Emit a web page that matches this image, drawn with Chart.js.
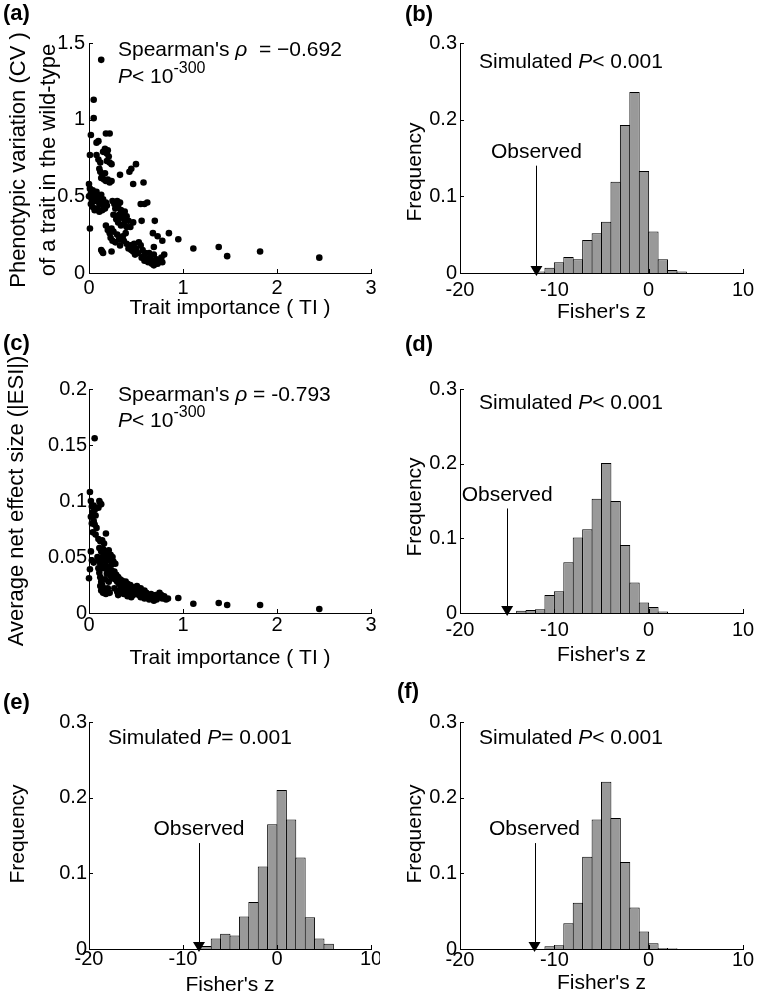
<!DOCTYPE html>
<html>
<head>
<meta charset="utf-8">
<script src="https://cdn.jsdelivr.net/npm/chart.js@4.4.1/dist/chart.umd.min.js"></script>
<style>
  html, body { margin: 0; padding: 0; background: #fff; }
  #fig { position: relative; width: 760px; height: 1005px; overflow: hidden; background: #fff; }
  #fig canvas { position: absolute; }
</style>
</head>
<body>
<div id="fig">
  <canvas id="panel-a" width="380" height="345" style="left:0;top:0"></canvas>
  <canvas id="panel-b" width="380" height="345" style="left:380px;top:0"></canvas>
  <canvas id="panel-c" width="380" height="345" style="left:0;top:330px"></canvas>
  <canvas id="panel-d" width="380" height="345" style="left:380px;top:330px"></canvas>
  <canvas id="panel-e" width="380" height="345" style="left:0;top:660px"></canvas>
  <canvas id="panel-f" width="380" height="345" style="left:380px;top:660px"></canvas>
</div>
<script>
const FONT = "'Liberation Sans', Arial, Helvetica, sans-serif";

// (a) trait importance (TI) vs phenotypic variation (CV), [TI, CV]
const scatterA = [
  [0.13,1.39],[0.05,1.13],[0.05,1.01],[0.02,0.90],[0.08,0.85],[0.10,0.86],[0.18,0.91],[0.22,0.91],
  [0.01,0.77],[0.08,0.77],[0.10,0.74],[0.12,0.72],[0.15,0.79],[0.17,0.81],[0.19,0.78],[0.20,0.80],
  [0.21,0.76],[0.19,0.73],[0.22,0.72],[0.24,0.71],[0.11,0.68],[0.12,0.66],[0.14,0.64],[0.13,0.62],
  [0.16,0.61],[0.18,0.60],[0.20,0.61],[0.22,0.59],[0.24,0.60],[0.17,0.65],
  [0.33,0.64],[0.43,0.66],[0.45,0.68],[0.50,0.71],[0.47,0.58],[0.58,0.59],[0.55,0.45],[0.59,0.45],[0.62,0.46],
  [0.00,0.58],[0.01,0.55],[0.02,0.52],[0.00,0.50],[0.03,0.48],[0.04,0.54],[0.05,0.51],[0.06,0.47],
  [0.07,0.50],[0.08,0.53],[0.09,0.47],[0.10,0.49],[0.11,0.45],[0.12,0.48],[0.13,0.51],[0.14,0.46],
  [0.15,0.48],[0.16,0.44],[0.17,0.42],[0.02,0.45],[0.04,0.43],[0.06,0.41],[0.09,0.42],[0.11,0.40],
  [0.14,0.41],[0.18,0.46],[0.19,0.44],
  [0.25,0.47],[0.27,0.45],[0.30,0.47],[0.31,0.44],[0.33,0.46],[0.28,0.42],[0.34,0.41],[0.36,0.39],
  [0.38,0.40],[0.32,0.38],[0.35,0.36],[0.38,0.35],[0.40,0.37],[0.42,0.34],[0.37,0.32],[0.34,0.31],
  [0.40,0.30],[0.44,0.30],[0.26,0.38],[0.29,0.35],[0.31,0.33],[0.47,0.33],
  [0.56,0.34],[0.70,0.34],[0.01,0.29],
  [0.18,0.31],[0.20,0.28],[0.22,0.26],[0.24,0.29],[0.26,0.27],[0.23,0.23],[0.25,0.21],[0.28,0.20],
  [0.30,0.25],[0.32,0.22],[0.33,0.18],[0.36,0.24],[0.37,0.21],[0.39,0.26],[0.40,0.19],[0.42,0.16],
  [0.44,0.18],[0.45,0.15],[0.47,0.14],[0.48,0.19],[0.50,0.16],[0.49,0.12],[0.52,0.13],[0.53,0.20],
  [0.55,0.18],[0.57,0.15],[0.58,0.11],[0.60,0.13],[0.56,0.10],[0.59,0.08],[0.61,0.09],[0.63,0.07],
  [0.65,0.10],[0.66,0.07],[0.67,0.06],[0.68,0.08],[0.69,0.05],[0.70,0.07],[0.72,0.09],[0.73,0.06],
  [0.75,0.08],[0.77,0.10],[0.78,0.07],[0.80,0.12],[0.64,0.13],[0.69,0.12],
  [0.68,0.26],[0.73,0.24],[0.78,0.21],[0.69,0.17],[0.85,0.26],[0.95,0.22],
  [0.13,0.15],[0.14,0.14],[0.15,0.13],[0.24,0.14],
  [1.11,0.16],[1.38,0.17],[1.47,0.11],[1.82,0.14],[2.45,0.10]
];

// (c) trait importance (TI) vs average net effect size, [TI, |ESI|]
const scatterC = [
  [0.06,0.156],
  [0.01,0.108],[0.02,0.100],[0.03,0.095],[0.05,0.096],[0.04,0.090],[0.06,0.092],[0.07,0.087],[0.02,0.086],
  [0.05,0.082],[0.06,0.079],[0.08,0.076],[0.03,0.080],[0.11,0.100],[0.12,0.098],[0.13,0.097],[0.10,0.094],
  [0.04,0.072],[0.07,0.070],[0.02,0.055],[0.01,0.039],[0.00,0.031],[0.03,0.047],[0.05,0.045],
  [0.18,0.071],[0.10,0.066],[0.12,0.064],[0.14,0.065],[0.16,0.062],[0.11,0.058],[0.13,0.055],[0.15,0.057],
  [0.17,0.053],[0.19,0.055],[0.21,0.056],[0.23,0.052],[0.25,0.050],[0.14,0.050],[0.16,0.048],[0.18,0.046],
  [0.20,0.049],[0.22,0.047],[0.10,0.047],[0.12,0.044],[0.09,0.050],[0.26,0.046],[0.28,0.044],[0.24,0.043],
  [0.10,0.040],[0.11,0.036],[0.12,0.032],[0.13,0.028],[0.12,0.024],[0.13,0.020],[0.15,0.018],[0.14,0.025],
  [0.16,0.022],[0.18,0.017],[0.17,0.030],[0.19,0.035],[0.20,0.022],[0.21,0.028],[0.22,0.018],[0.23,0.033],
  [0.24,0.038],[0.15,0.040],[0.17,0.042],[0.19,0.039],[0.21,0.041],
  [0.25,0.031],[0.26,0.035],[0.27,0.037],[0.28,0.030],[0.29,0.034],[0.30,0.028],[0.31,0.032],[0.32,0.026],
  [0.33,0.030],[0.34,0.027],[0.35,0.029],[0.36,0.024],[0.37,0.027],[0.38,0.025],[0.39,0.028],[0.40,0.023],
  [0.41,0.026],[0.42,0.024],[0.43,0.021],[0.44,0.025],[0.45,0.022],[0.46,0.020],[0.47,0.023],[0.48,0.019],
  [0.49,0.021],[0.50,0.018],[0.27,0.022],[0.30,0.019],[0.31,0.016],[0.33,0.021],[0.35,0.019],[0.37,0.017],
  [0.39,0.020],[0.41,0.015],[0.43,0.017],[0.45,0.014],[0.47,0.016],[0.52,0.020],[0.53,0.016],[0.54,0.018],
  [0.55,0.014],[0.56,0.017],[0.57,0.015],[0.58,0.019],[0.59,0.013],[0.60,0.016],[0.61,0.018],[0.62,0.014],
  [0.63,0.016],[0.64,0.012],[0.65,0.015],[0.66,0.017],[0.67,0.013],[0.68,0.015],[0.69,0.011],[0.70,0.013],
  [0.71,0.016],[0.72,0.012],[0.74,0.014],[0.75,0.018],[0.77,0.016],[0.78,0.013],[0.80,0.015],[0.82,0.012],
  [0.84,0.013],[0.51,0.024],[0.55,0.022],[0.59,0.020],
  [0.95,0.0134],[1.11,0.0083],[1.38,0.0089],[1.47,0.0071],[1.82,0.0071],[2.45,0.0036]
];

// Histograms of Fisher's z: bin centres and frequencies
const binsB = [-11.5,-10.5,-9.5,-8.5,-7.5,-6.5,-5.5,-4.5,-3.5,-2.5,-1.5,-0.5,0.5,1.5,2.5,3.5];
const freqB = [0.002,0.007,0.014,0.021,0.018,0.043,0.052,0.067,0.119,0.193,0.236,0.133,0.054,0.018,0.004,0.002];
const observedB = -11.9;

const binsD = [-13.5,-12.5,-11.5,-10.5,-9.5,-8.5,-7.5,-6.5,-5.5,-4.5,-3.5,-2.5,-1.5,-0.5,0.5,1.5];
const freqD = [0.003,0.004,0.005,0.024,0.029,0.068,0.101,0.112,0.153,0.201,0.150,0.091,0.041,0.014,0.008,0.002];
const observedD = -15.0;

const binsE = [-7.5,-6.5,-5.5,-4.5,-3.5,-2.5,-1.5,-0.5,0.5,1.5,2.5,3.5,4.5,5.5];
const freqE = [0.004,0.014,0.020,0.018,0.043,0.062,0.109,0.165,0.210,0.171,0.121,0.042,0.014,0.007];
const observedE = -8.3;

const binsF = [-10.5,-9.5,-8.5,-7.5,-6.5,-5.5,-4.5,-3.5,-2.5,-1.5,-0.5,0.5,1.5,2.5];
const freqF = [0.0035,0.005,0.034,0.061,0.122,0.171,0.221,0.173,0.115,0.055,0.023,0.0075,0.0013,0.001];
const observedF = -12.1;

// Tick values
const tiTicks = [0, 1, 2, 3];
const cvTicks = [0, 0.5, 1, 1.5];
const esiTicks = [0, 0.05, 0.1, 0.15, 0.2];
const zTicks = [-20, -10, 0, 10];
const freqTicks = [0, 0.1, 0.2, 0.3];

// Small MATLAB-style ticks pointing into the plot
const inwardTicks = {
  id: 'inwardTicks',
  afterDatasetsDraw(chart) {
    const { ctx, chartArea, scales: { x, y } } = chart;
    ctx.save();
    ctx.strokeStyle = '#000';
    ctx.lineWidth = 1;
    ctx.beginPath();
    x.ticks.forEach((t) => {
      const px = Math.round(x.getPixelForValue(t.value)) + 0.5;
      ctx.moveTo(px, chartArea.bottom);
      ctx.lineTo(px, chartArea.bottom - 4);
    });
    y.ticks.forEach((t) => {
      const py = Math.round(y.getPixelForValue(t.value)) + 0.5;
      ctx.moveTo(chartArea.left, py);
      ctx.lineTo(chartArea.left + 4, py);
    });
    ctx.stroke();
    ctx.restore();
  }
};

// Draw a line of text made of plain / italic / superscript pieces
function drawRich(ctx, x, y, parts, size) {
  ctx.save();
  ctx.fillStyle = '#000';
  ctx.textAlign = 'left';
  ctx.textBaseline = 'middle';
  parts.forEach((p) => {
    const s = p.sup ? Math.round(size * 0.76) : size;
    ctx.font = (p.italic ? 'italic ' : '') + s + 'px ' + FONT;
    ctx.fillText(p.t, x, p.sup ? y - size * 0.4 : y);
    x += ctx.measureText(p.t).width;
  });
  ctx.restore();
}

function drawPanelLabel(ctx, text, x, y) {
  ctx.save();
  ctx.fillStyle = '#000';
  ctx.font = 'bold 22px ' + FONT;
  ctx.textAlign = 'left';
  ctx.textBaseline = 'middle';
  ctx.fillText(text, x, y);
  ctx.restore();
}

// Rotated y-axis title, one or more lines
function drawYTitle(ctx, lines, cx, cy, size, gap) {
  ctx.save();
  ctx.translate(cx, cy);
  ctx.rotate(-Math.PI / 2);
  ctx.fillStyle = '#000';
  ctx.font = size + 'px ' + FONT;
  ctx.textAlign = 'center';
  ctx.textBaseline = 'middle';
  lines.forEach((l, i) => ctx.fillText(l, 0, i * gap));
  ctx.restore();
}

// Arrow with the observed Fisher's z
function drawObserved(chart, z) {
  const { ctx, scales: { x, y } } = chart;
  const px = x.getPixelForValue(z);
  const base = y.getPixelForValue(0);
  const top = y.getPixelForValue(0.14);
  ctx.save();
  ctx.strokeStyle = '#000';
  ctx.fillStyle = '#000';
  ctx.lineWidth = 1;
  ctx.beginPath();
  ctx.moveTo(Math.round(px) + 0.5, top);
  ctx.lineTo(Math.round(px) + 0.5, base - 6);
  ctx.stroke();
  ctx.beginPath();
  ctx.moveTo(px - 6, base - 7);
  ctx.lineTo(px + 6, base - 7);
  ctx.lineTo(px, base + 3);
  ctx.closePath();
  ctx.fill();
  ctx.font = '21px ' + FONT;
  ctx.textAlign = 'center';
  ctx.textBaseline = 'middle';
  ctx.fillText('Observed', px, y.getPixelForValue(0.158));
  ctx.restore();
}

function scatterSet(points) {
  return {
    data: points.map((p) => ({ x: p[0], y: p[1] })),
    pointRadius: 3.3,
    pointBackgroundColor: '#000',
    pointBorderWidth: 0,
    clip: false
  };
}

function histSet(bins, freq) {
  return {
    data: bins.map((b, i) => ({ x: b, y: freq[i] })),
    backgroundColor: '#999999',
    borderColor: '#000',
    borderWidth: 1,
    barPercentage: 1.1,
    categoryPercentage: 1
  };
}

function makePanel(id, p) {
  const ctx = document.getElementById(id).getContext('2d');
  return new Chart(ctx, {
    type: p.type,
    data: { datasets: [p.dataset] },
    options: {
      responsive: false,
      animation: false,
      devicePixelRatio: 1,
      events: [],
      layout: { padding: { top: p.top, right: p.right, left: 0, bottom: 0 } },
      plugins: { legend: { display: false }, tooltip: { enabled: false } },
      scales: {
        x: {
          type: 'linear',
          offset: false,
          min: p.xTicks[0],
          max: p.xTicks[p.xTicks.length - 1],
          grid: { display: false, drawTicks: false, offset: false },
          border: { display: true, color: '#000', width: 1 },
          afterBuildTicks: (s) => { s.ticks = p.xTicks.map((v) => ({ value: v })); },
          afterFit: (s) => { s.height = p.xHeight; s.paddingLeft = 0; s.paddingRight = 0; },
          ticks: {
            color: '#000', padding: p.xTickPad, maxRotation: 0, autoSkip: false,
            font: { family: FONT, size: 20, lineHeight: 1 },
            callback: (v) => String(v)
          },
          title: {
            display: true, text: p.xTitle, color: '#000',
            padding: { top: 0, bottom: p.xTitlePad },
            font: { family: FONT, size: 21, lineHeight: 1.2 }
          }
        },
        y: {
          type: 'linear',
          min: p.yTicks[0],
          max: p.yTicks[p.yTicks.length - 1],
          grid: { display: false, drawTicks: false },
          border: { display: true, color: '#000', width: 1 },
          afterBuildTicks: (s) => { s.ticks = p.yTicks.map((v) => ({ value: v })); },
          afterFit: (s) => { s.width = p.yWidth; s.paddingTop = 0; s.paddingBottom = 0; },
          ticks: {
            color: '#000', padding: p.yTickPad, autoSkip: false,
            font: { family: FONT, size: 20, lineHeight: 1 },
            callback: (v) => String(v)
          }
        }
      }
    },
    plugins: [inwardTicks, { id: 'extras', afterDraw: (chart) => p.extras(chart) }]
  });
}

// (a)
makePanel('panel-a', {
  type: 'scatter', dataset: scatterSet(scatterA),
  xTicks: tiTicks, yTicks: cvTicks,
  top: 43, right: 9, yWidth: 89, xHeight: 72,
  xTickPad: 5, yTickPad: 4, xTitlePad: 24.4, xTitle: 'Trait importance ( TI )',
  extras: (chart) => {
    const ctx = chart.ctx;
    drawPanelLabel(ctx, '(a)', 3, 14);
    drawYTitle(ctx, ['Phenotypic variation (CV )', 'of a trait in the wild-type'], 19, 160, 22, 30);
    drawRich(ctx, 118, 50, [{ t: "Spearman's " }, { t: 'ρ', italic: true }, { t: '  = −0.692' }], 21);
    drawRich(ctx, 118, 77, [{ t: 'P', italic: true }, { t: '< 10' }, { t: '-300', sup: true }], 21);
  }
});

// (b)
makePanel('panel-b', {
  type: 'bar', dataset: histSet(binsB, freqB),
  xTicks: zTicks, yTicks: freqTicks,
  top: 43, right: 17, yWidth: 80, xHeight: 72,
  xTickPad: 7, yTickPad: 3, xTitlePad: 20.4, xTitle: "Fisher's z",
  extras: (chart) => {
    const ctx = chart.ctx;
    drawPanelLabel(ctx, '(b)', 25, 15);
    drawYTitle(ctx, ['Frequency'], 35, 172, 21, 0);
    drawRich(ctx, 99, 62, [{ t: 'Simulated ' }, { t: 'P', italic: true }, { t: '< 0.001' }], 21);
    drawObserved(chart, observedB);
  }
});

// (c)
makePanel('panel-c', {
  type: 'scatter', dataset: scatterSet(scatterC),
  xTicks: tiTicks, yTicks: esiTicks,
  top: 59, right: 9, yWidth: 89, xHeight: 62,
  xTickPad: 2, yTickPad: 2, xTitlePad: 4.4, xTitle: 'Trait importance ( TI )',
  extras: (chart) => {
    const ctx = chart.ctx;
    drawPanelLabel(ctx, '(c)', 3, 14);
    drawYTitle(ctx, ['Average net effect size (|ESI|)'], 17, 171, 22, 0);
    drawRich(ctx, 118, 65, [{ t: "Spearman's " }, { t: 'ρ', italic: true }, { t: ' = -0.793' }], 21);
    drawRich(ctx, 118, 91, [{ t: 'P', italic: true }, { t: '< 10' }, { t: '-300', sup: true }], 21);
  }
});

// (d)
makePanel('panel-d', {
  type: 'bar', dataset: histSet(binsD, freqD),
  xTicks: zTicks, yTicks: freqTicks,
  top: 59, right: 17, yWidth: 80, xHeight: 62,
  xTickPad: 7, yTickPad: 3, xTitlePad: 7.4, xTitle: "Fisher's z",
  extras: (chart) => {
    const ctx = chart.ctx;
    drawPanelLabel(ctx, '(d)', 25, 15);
    drawYTitle(ctx, ['Frequency'], 35, 177, 21, 0);
    drawRich(ctx, 99, 73, [{ t: 'Simulated ' }, { t: 'P', italic: true }, { t: '< 0.001' }], 21);
    drawObserved(chart, observedD);
  }
});

// (e)
makePanel('panel-e', {
  type: 'bar', dataset: histSet(binsE, freqE),
  xTicks: zTicks, yTicks: freqTicks,
  top: 62, right: 9, yWidth: 89, xHeight: 56,
  xTickPad: 0, yTickPad: 2, xTitlePad: 7.4, xTitle: "Fisher's z",
  extras: (chart) => {
    const ctx = chart.ctx;
    drawPanelLabel(ctx, '(e)', 3, 43);
    drawYTitle(ctx, ['Frequency'], 18, 174, 21, 0);
    drawRich(ctx, 108, 78, [{ t: 'Simulated ' }, { t: 'P', italic: true }, { t: '= 0.001' }], 21);
    drawObserved(chart, observedE);
  }
});

// (f)
makePanel('panel-f', {
  type: 'bar', dataset: histSet(binsF, freqF),
  xTicks: zTicks, yTicks: freqTicks,
  top: 62, right: 17, yWidth: 80, xHeight: 56,
  xTickPad: 1, yTickPad: 3, xTitlePad: 9.4, xTitle: "Fisher's z",
  extras: (chart) => {
    const ctx = chart.ctx;
    drawPanelLabel(ctx, '(f)', 17, 32);
    drawYTitle(ctx, ['Frequency'], 35, 174, 21, 0);
    drawRich(ctx, 99, 78, [{ t: 'Simulated ' }, { t: 'P', italic: true }, { t: '< 0.001' }], 21);
    drawObserved(chart, observedF);
  }
});
</script>
</body>
</html>
